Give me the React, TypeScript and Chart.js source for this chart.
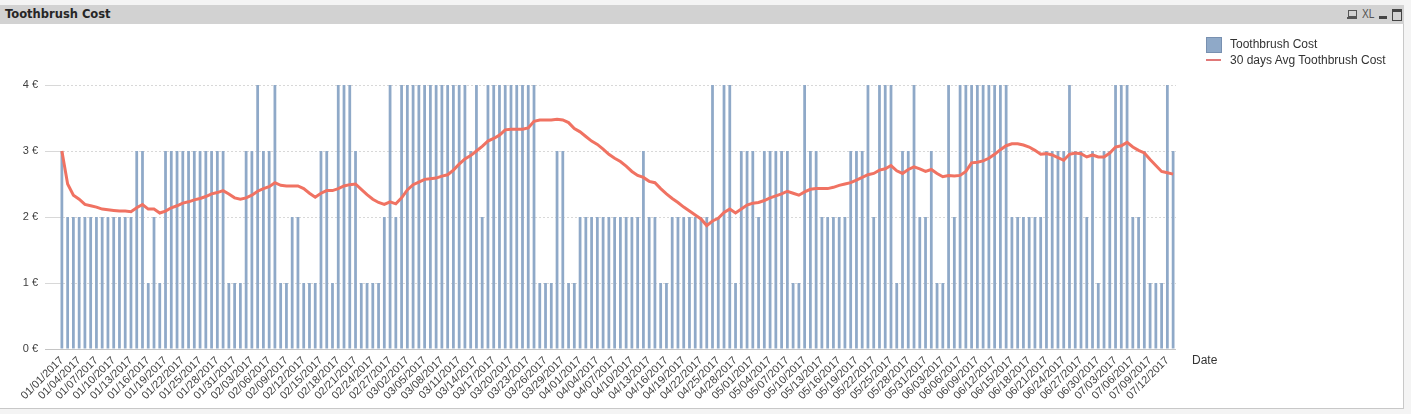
import React, { useEffect, useRef } from "react";
import { Chart, registerables } from "chart.js";

Chart.register(...registerables);

const startDate = { year: 2017, month: 1, day: 1 };
const dayCount = 194;

const costs: number[] = [
  3, 2, 2, 2, 2, 2, 2, 2, 2, 2,
  2, 2, 2, 3, 3, 1, 2, 1, 3, 3,
  3, 3, 3, 3, 3, 3, 3, 3, 3, 1,
  1, 1, 3, 3, 4, 3, 3, 4, 1, 1,
  2, 2, 1, 1, 1, 3, 3, 1, 4, 4,
  4, 3, 1, 1, 1, 1, 2, 4, 2, 4,
  4, 4, 4, 4, 4, 4, 4, 4, 4, 4,
  4, 3, 4, 2, 4, 4, 4, 4, 4, 4,
  4, 4, 4, 1, 1, 1, 3, 3, 1, 1,
  2, 2, 2, 2, 2, 2, 2, 2, 2, 2,
  2, 3, 2, 2, 1, 1, 2, 2, 2, 2,
  2, 2, 2, 4, 2, 4, 4, 1, 3, 3,
  3, 2, 3, 3, 3, 3, 3, 1, 1, 4,
  3, 3, 2, 2, 2, 2, 2, 3, 3, 3,
  4, 2, 4, 4, 4, 1, 3, 3, 4, 2,
  2, 3, 1, 1, 4, 2, 4, 4, 4, 4,
  4, 4, 4, 4, 4, 2, 2, 2, 2, 2,
  2, 3, 3, 3, 3, 4, 3, 3, 2, 3,
  1, 3, 3, 4, 4, 4, 2, 2, 3, 1,
  1, 1, 4, 3,
];

const avg30: number[] = [
  3.0, 2.5, 2.33, 2.27, 2.19, 2.17, 2.15, 2.12, 2.11, 2.1,
  2.09, 2.09, 2.08, 2.14, 2.19, 2.12, 2.12, 2.06, 2.09, 2.14,
  2.17, 2.21, 2.23, 2.26, 2.28, 2.31, 2.35, 2.37, 2.4, 2.35,
  2.29, 2.27, 2.29, 2.33, 2.39, 2.43, 2.46, 2.52, 2.48, 2.47,
  2.47, 2.47, 2.43, 2.36, 2.3, 2.36, 2.4, 2.4, 2.43, 2.47,
  2.49, 2.5, 2.42, 2.34, 2.27, 2.22, 2.19, 2.23, 2.2, 2.29,
  2.41, 2.49, 2.53, 2.57, 2.58, 2.59, 2.62, 2.64, 2.71, 2.8,
  2.88, 2.93, 3.0, 3.07, 3.15, 3.19, 3.24, 3.32, 3.33, 3.33,
  3.33, 3.35, 3.45, 3.47, 3.47, 3.47, 3.48, 3.47, 3.43, 3.34,
  3.29, 3.22, 3.15, 3.1, 3.03, 2.95, 2.89, 2.84, 2.77, 2.69,
  2.63, 2.6, 2.54, 2.52, 2.43, 2.35, 2.28, 2.22, 2.15, 2.09,
  2.03, 1.97, 1.87, 1.94, 1.98, 2.07, 2.12, 2.06, 2.12, 2.18,
  2.21, 2.22, 2.25, 2.29, 2.32, 2.35, 2.39, 2.36, 2.33, 2.38,
  2.42, 2.43, 2.43, 2.43, 2.45, 2.48, 2.5, 2.52, 2.56, 2.6,
  2.64, 2.66, 2.71, 2.73, 2.78, 2.7, 2.66, 2.72, 2.76, 2.73,
  2.69, 2.72, 2.66, 2.61, 2.63, 2.62, 2.63, 2.69, 2.82, 2.83,
  2.85, 2.89, 2.95, 3.02, 3.08, 3.11, 3.11, 3.09, 3.06, 3.01,
  2.95, 2.96, 2.94, 2.9, 2.86, 2.95, 2.97, 2.96, 2.91, 2.94,
  2.91, 2.91, 2.97, 3.06, 3.08, 3.13, 3.06, 3.01, 2.97, 2.87,
  2.78, 2.69, 2.67, 2.65,
];

const yTicks: number[] = [0, 1, 2, 3, 4];
const seriesNames = ["Toothbrush Cost", "30 days Avg Toothbrush Cost"];
const axisTitle = "Date";
const chartTitle = "Toothbrush Cost";

function pad(n: number) {
  return n < 10 ? "0" + n : "" + n;
}

const dates: string[] = (() => {
  const out: string[] = [];
  const d = new Date(Date.UTC(startDate.year, startDate.month - 1, startDate.day));
  for (let i = 0; i < dayCount; i++) {
    out.push(`${pad(d.getUTCMonth() + 1)}/${pad(d.getUTCDate())}/${d.getUTCFullYear()}`);
    d.setUTCDate(d.getUTCDate() + 1);
  }
  return out;
})();

const BAR_COLOR = "#8FA9C8";
const LINE_COLOR = "#F07262";
const FONT = "'Liberation Sans', Arial, sans-serif";

export default function App() {
  const canvasRef = useRef<HTMLCanvasElement | null>(null);

  useEffect(() => {
    if (!canvasRef.current) return;
    const chart = new Chart(canvasRef.current, {
      type: "bar",
      data: {
        labels: dates,
        datasets: [
          {
            type: "line",
            label: seriesNames[1],
            data: avg30,
            borderColor: LINE_COLOR,
            borderWidth: 3,
            pointRadius: 0,
            tension: 0,
            order: 0,
          } as any,
          {
            type: "bar",
            label: seriesNames[0],
            data: costs,
            backgroundColor: BAR_COLOR,
            categoryPercentage: 1,
            barPercentage: 0.48,
            order: 1,
          },
        ],
      },
      options: {
        animation: false,
        responsive: false,
        maintainAspectRatio: false,
        layout: { padding: { left: 0, top: 85, right: 235, bottom: 10 } },
        plugins: {
          legend: { display: false },
          title: { display: false },
          tooltip: { enabled: false },
        },
        scales: {
          x: {
            grid: { display: false, drawTicks: false },
            border: { display: false },
            ticks: {
              autoSkip: false,
              maxRotation: 45,
              minRotation: 45,
              padding: 5,
              color: "#404040",
              font: { family: FONT, size: 11 },
              callback: (_v: any, i: number) => (i % 3 === 0 ? dates[i] : ""),
            },
            afterFit: (s: any) => {
              s.height = 55;
            },
          },
          y: {
            min: 0,
            max: 4,
            afterBuildTicks: (s: any) => {
              s.ticks = yTicks.map((v) => ({ value: v }));
            },
            grid: {
              color: (ctx: any) => (ctx.tick && ctx.tick.value === 0 ? "#C4C4C4" : "#D8D8D8"),
              tickLength: 14,
              tickColor: (ctx: any) => (ctx.tick && ctx.tick.value === 0 ? "#C4C4C4" : "#D8D8D8"),
              lineWidth: 1,
            },
            border: {
              display: false,
              dash: (ctx: any) => (ctx.tick && ctx.tick.value === 0 ? [] : [2, 2]),
            },
            ticks: {
              padding: 7,
              color: "#404040",
              font: { family: FONT, size: 11 },
              callback: (v: any) => `${v} €`,
            },
            afterFit: (s: any) => {
              s.width = 59;
            },
          },
        },
      },
    });
    return () => chart.destroy();
  }, []);

  return (
    <div
      style={{
        position: "absolute",
        left: 0,
        top: 0,
        width: 1411,
        height: 414,
        background: "#F4F4F4",
        overflow: "hidden",
      }}
    >
      <div
        style={{
          position: "absolute",
          left: 0,
          top: 5,
          width: 1403,
          height: 403,
          background: "#FFFFFF",
          borderRight: "1px solid #C8C8C8",
          borderBottom: "1px solid #C8C8C8",
        }}
      />
      <div
        style={{
          position: "absolute",
          left: 0,
          top: 5,
          width: 1404,
          height: 19,
          background: "#D2D2D2",
        }}
      >
        <span
          style={{
            position: "absolute",
            left: 5,
            top: 1,
            fontFamily: "'DejaVu Sans', Verdana, sans-serif",
            fontWeight: "bold",
            fontSize: 11.5,
            lineHeight: "17px",
            color: "#262626",
          }}
        >
          {chartTitle}
        </span>
        <div style={{ position: "absolute", left: 1348, top: 5, width: 7, height: 5, border: "1px solid #555" }} />
        <div style={{ position: "absolute", left: 1347, top: 12, width: 10, height: 2, background: "#555" }} />
        <span
          style={{
            position: "absolute",
            left: 1362,
            top: 2,
            fontFamily: FONT,
            fontSize: 12,
            lineHeight: "15px",
            color: "#555",
            transform: "scaleX(0.85)",
            transformOrigin: "left",
          }}
        >
          XL
        </span>
        <div style={{ position: "absolute", left: 1379, top: 11, width: 8, height: 3, background: "#444" }} />
        <div
          style={{
            position: "absolute",
            left: 1392,
            top: 4,
            width: 8,
            height: 8,
            border: "1px solid #444",
            borderTop: "3px solid #444",
          }}
        />
      </div>
      <canvas
        ref={canvasRef}
        width={1411}
        height={414}
        style={{ position: "absolute", left: 0, top: 0, width: 1411, height: 414 }}
      />
      <div
        style={{
          position: "absolute",
          left: 1206,
          top: 37,
          width: 14,
          height: 14,
          background: BAR_COLOR,
          border: "1px solid #7890B0",
        }}
      />
      <span
        style={{
          position: "absolute",
          left: 1230,
          top: 37,
          fontFamily: FONT,
          fontSize: 12,
          lineHeight: "14px",
          color: "#333",
        }}
      >
        {seriesNames[0]}
      </span>
      <div style={{ position: "absolute", left: 1206, top: 59, width: 15, height: 2, background: "#E07878" }} />
      <span
        style={{
          position: "absolute",
          left: 1230,
          top: 53,
          fontFamily: FONT,
          fontSize: 12,
          lineHeight: "14px",
          color: "#333",
        }}
      >
        {seriesNames[1]}
      </span>
      <span
        style={{
          position: "absolute",
          left: 1192,
          top: 353,
          fontFamily: FONT,
          fontSize: 12,
          lineHeight: "14px",
          color: "#333",
        }}
      >
        {axisTitle}
      </span>
    </div>
  );
}
